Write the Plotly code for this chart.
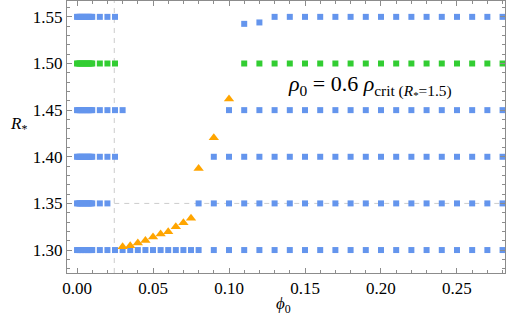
import plotly.graph_objects as go

# phi_0 values (x) and R_* values (y), one row at a time
phi_dense = [0.000, 0.001, 0.002, 0.003, 0.004, 0.005, 0.006, 0.007, 0.008, 0.009, 0.010]

row130_x = phi_dense + [0.015, 0.020, 0.025, 0.030, 0.035, 0.040, 0.045, 0.050, 0.055, 0.060,
                        0.065, 0.070, 0.075, 0.080, 0.09, 0.10, 0.11, 0.12, 0.13, 0.14, 0.15,
                        0.16, 0.17, 0.18, 0.19, 0.20, 0.21, 0.22, 0.23, 0.24, 0.25, 0.26, 0.27, 0.28]
row135_x = phi_dense + [0.015, 0.020, 0.08, 0.09, 0.10, 0.11, 0.12, 0.13, 0.14, 0.15, 0.16,
                        0.17, 0.18, 0.19, 0.20, 0.21, 0.22, 0.23, 0.24, 0.25, 0.26, 0.27, 0.28]
row140_x = phi_dense + [0.015, 0.020, 0.025, 0.09, 0.10, 0.11, 0.12, 0.13, 0.14, 0.15, 0.16,
                        0.17, 0.18, 0.19, 0.20, 0.21, 0.22, 0.23, 0.24, 0.25, 0.26, 0.27, 0.28]
row145_x = phi_dense + [0.015, 0.020, 0.025, 0.030, 0.10, 0.11, 0.12, 0.13, 0.14, 0.15, 0.16,
                        0.17, 0.18, 0.19, 0.20, 0.21, 0.22, 0.23, 0.24, 0.25, 0.26, 0.27, 0.28]
row155_x = phi_dense + [0.015, 0.020, 0.025, 0.11, 0.12, 0.13, 0.14, 0.15, 0.16, 0.17, 0.18,
                        0.19, 0.20, 0.21, 0.22, 0.23, 0.24, 0.25, 0.26, 0.27, 0.28]
row155_y = [1.55] * 14 + [1.5425, 1.544] + [1.55] * 16

green_x = phi_dense + [0.015, 0.020, 0.025, 0.11, 0.12, 0.13, 0.14, 0.15, 0.16, 0.17, 0.18,
                       0.19, 0.20, 0.21, 0.22, 0.23, 0.24, 0.25, 0.26, 0.27, 0.28]
green_R = 1.50

tri_x = [0.030, 0.035, 0.040, 0.045, 0.050, 0.055, 0.060, 0.065, 0.070, 0.075, 0.080, 0.090, 0.100]
tri_y = [1.3035, 1.3046, 1.3075, 1.3103, 1.3139, 1.3171, 1.3196, 1.3249, 1.3292, 1.3342,
         1.3873, 1.4204, 1.4620]

phi_crit = 0.0245
R_crit = 1.35
x_range = [-0.0066, 0.2816]
y_range = [1.2754, 1.567]

blue = "#6495ED"
green = "#32CD32"
orange = "#FFA500"
frame = "#8c8c8c"
serif = "Liberation Serif"

blue_x = row130_x + row135_x + row140_x + row145_x + row155_x
blue_y = ([1.30] * len(row130_x) + [1.35] * len(row135_x) + [1.40] * len(row140_x)
          + [1.45] * len(row145_x) + row155_y)

W, H = 512, 327
ml, mr, mt, mb = 67, 7, 1, 54
pw, ph = W - ml - mr, H - mt - mb

fig = go.Figure()
fig.add_trace(go.Scatter(x=blue_x, y=blue_y, mode="markers",
                         marker=dict(symbol="square", size=6, color=blue, line_width=0)))
fig.add_trace(go.Scatter(x=green_x, y=[green_R] * len(green_x), mode="markers",
                         marker=dict(symbol="square", size=6, color=green, line_width=0)))
fig.add_trace(go.Scatter(x=tri_x, y=tri_y, mode="markers",
                         marker=dict(symbol="triangle-up", size=9, color=orange, line_width=0)))

# dashed guide lines
fig.add_shape(type="line", x0=phi_crit, x1=phi_crit, y0=0, y1=1, xref="x", yref="paper",
              line=dict(color="#cccccc", width=1, dash="5px,5px"), layer="below")
fig.add_shape(type="line", x0=phi_crit, x1=x_range[1], y0=R_crit, y1=R_crit, xref="x", yref="y",
              line=dict(color="#cccccc", width=1, dash="5px,5px"), layer="below")

fig.add_annotation(x=0.1375, y=1.476, xref="x", yref="y", xanchor="left", yanchor="middle",
                   showarrow=False,
                   text="<i>ρ</i><sub>0</sub> = 0.6 <i>ρ</i><sub>crit (<i>R</i><sub>*</sub>=1.5)</sub>",
                   font=dict(family=serif, size=22, color="black"))
# axis labels, positioned by pixel
fig.add_annotation(x=(18 - ml) / pw, y=(H - mb - 125) / ph, xref="paper", yref="paper",
                   xanchor="center", yanchor="middle",
                   showarrow=False, text="<i>R</i><sub>*</sub>",
                   font=dict(family=serif, size=17, color="black"))
fig.add_annotation(x=(283 - ml) / pw, y=(H - mb - 305) / ph, xref="paper", yref="paper",
                   xanchor="center", yanchor="middle",
                   showarrow=False, text="<i>ϕ</i><sub>0</sub>",
                   font=dict(family=serif, size=17, color="black"))

axis_common = dict(showline=True, linecolor=frame, linewidth=1, mirror="ticks",
                   ticks="inside", ticklen=5, tickcolor=frame, showgrid=False,
                   zeroline=False, tickformat=".2f", dtick=0.05,
                   minor=dict(ticks="inside", dtick=0.01, ticklen=3, tickcolor=frame),
                   tickfont=dict(family=serif, size=17, color="black"))
fig.update_xaxes(range=x_range, tick0=0, **axis_common)
fig.update_yaxes(range=y_range, tick0=1.30, **axis_common)

fig.update_layout(width=W, height=H, margin=dict(l=ml, r=mr, t=mt, b=mb),
                  plot_bgcolor="white", paper_bgcolor="white", showlegend=False)

# the page's default body margin would shift the figure by 8px
fig.write_html("out.html", config={"displayModeBar": False},
               post_script="document.body.style.margin='0px';")
